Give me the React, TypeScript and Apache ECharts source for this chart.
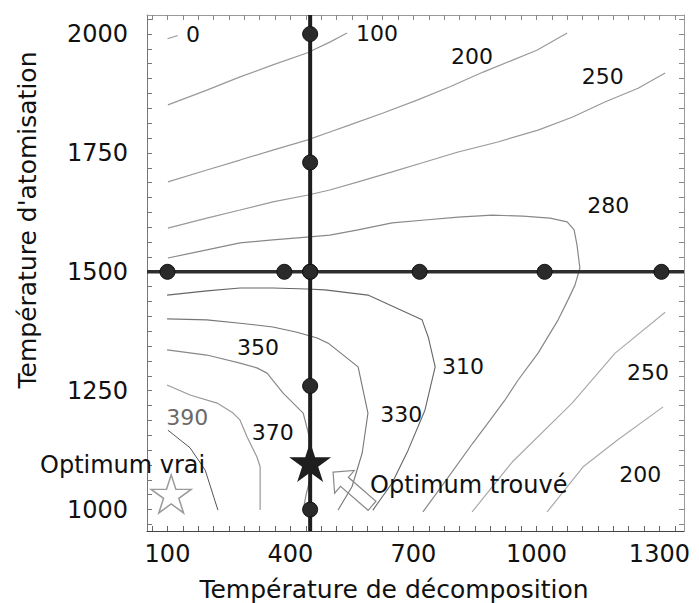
import React, { useEffect, useRef } from "react";
import * as echarts from "echarts";

// ---- axis ticks / labels ----
const xTickLabels = [100, 400, 700, 1000, 1300];
const yTickLabels = [1000, 1250, 1500, 1750, 2000];

// ---- contour lines (Température de décomposition, Température d'atomisation) ----
const contour0 = [[100, 1990], [125, 1997]];
const contour100 = [[101, 1851], [196, 1882], [277, 1910], [357, 1935], [440, 1960], [496, 1983], [538, 2002]];
const contour200a = [[101, 1689], [196, 1714], [277, 1735], [357, 1756], [440, 1777], [496, 1794], [545, 1809], [626, 1834], [709, 1861], [789, 1889], [870, 1920], [936, 1943], [1001, 1966], [1075, 2002]];
const contour250a = [[101, 1592], [196, 1613], [277, 1630], [357, 1647], [440, 1661], [496, 1672], [565, 1689], [648, 1710], [728, 1731], [809, 1752], [906, 1773], [1004, 1798], [1087, 1825], [1167, 1857], [1248, 1886], [1314, 1918]];
const contour280 = [[101, 1529], [196, 1546], [277, 1561], [357, 1567], [440, 1573], [496, 1577], [565, 1588], [648, 1603], [728, 1609], [809, 1615], [892, 1619], [967, 1617], [1033, 1613], [1075, 1605], [1092, 1588], [1099, 1556], [1106, 1508], [1094, 1472], [1077, 1441], [1053, 1399], [1004, 1329], [955, 1272], [923, 1230], [887, 1188], [845, 1140], [789, 1073], [723, 995]];
const contour310 = [[99, 1451], [196, 1460], [277, 1466], [357, 1466], [440, 1464], [484, 1462], [589, 1451], [721, 1399], [736, 1363], [753, 1300], [728, 1209], [687, 1125], [648, 1056], [601, 999]];
const contour330 = [[99, 1401], [196, 1399], [277, 1392], [357, 1384], [416, 1373], [465, 1361], [492, 1350], [565, 1300], [589, 1203], [575, 1119], [550, 1048], [516, 999]];
const contour350 = [[99, 1336], [196, 1325], [277, 1308], [318, 1298], [343, 1287], [382, 1245], [431, 1203], [448, 1146], [453, 1083], [438, 1031], [431, 999]];
const contour370 = [[99, 1262], [155, 1241], [221, 1224], [260, 1203], [277, 1188], [294, 1153], [318, 1111], [326, 1090], [326, 999]];
const contour390 = [[101, 1167], [155, 1130], [192, 1083], [223, 999]];
const contour250b = [[1314, 1415], [1192, 1329], [1087, 1224], [941, 1100], [843, 995]];
const contour200b = [[1309, 1216], [1197, 1146], [1114, 1090], [1026, 995]];

// contour labels: [x, y, text]
const contourLabels = [
  [162, 1998, "0"],
  [611, 2002, "100"],
  [843, 1952, "200"],
  [1162, 1910, "250"],
  [1175, 1640, "280"],
  [321, 1340, "350"],
  [357, 1163, "370"],
  [821, 1300, "310"],
  [670, 1199, "330"],
  [1272, 1289, "250"],
  [1253, 1073, "200"],
];
const greyLabels = [[148, 1193, "390"]];

// ---- experimental design ----
const centerX = 448;
const centerY = 1500;
const horizontalPointsX = [100, 385, 448, 715, 1020, 1305];
const verticalPointsY = [2000, 1730, 1500, 1260, 1000];

const optimumFound = [[448, 1100]];
const optimumTrue = [[109, 1033]];
// arrow: [tipX, tipY, tailX, tailY]
const arrowData = [[504, 1079, 599, 1008]];

const X_MIN = 50, X_MAX = 1360, Y_MIN = 955, Y_MAX = 2040;

const STAR = "path://M50,0 L61.2,34.5 L97.6,34.5 L68.2,55.9 L79.4,90.5 L50,69.1 L20.6,90.5 L31.8,55.9 L2.4,34.5 L38.8,34.5 Z";
const FONT = "DejaVu Sans";
const INK = "#111";

function range(a: number, b: number, s: number) {
  const out: number[] = [];
  for (let v = a; v <= b + 1e-6; v += s) out.push(v);
  return out;
}

export default function App() {
  const ref = useRef<HTMLDivElement>(null);
  useEffect(() => {
    if (!ref.current) return;
    const chart = echarts.init(ref.current, undefined, { renderer: "svg" });
    const xTicks = range(62.5, 1350, 37.5);
    const yTicks = range(968.75, 2031.25, 31.25);

    const contourSeries = (data: number[][], color: string, width = 1.2) => ({
      type: "line",
      data,
      showSymbol: false,
      silent: true,
      z: 1,
      lineStyle: { color, width },
    });

    const labelSeries = (data: any[], color: string) => ({
      type: "scatter",
      data,
      symbolSize: 0, z: 6, silent: true, clip: false,
      itemStyle: { opacity: 1 },
      label: {
        show: true, position: "inside", formatter: (p: any) => p.value[2],
        fontSize: 22, fontFamily: FONT, color, textBorderWidth: 0, opacity: 1,
      },
    });

    const option: any = {
      animation: false,
      backgroundColor: "#ffffff",
      grid: { left: 147, right: 15, top: 15, bottom: 72, show: false },
      xAxis: [
        {
          type: "value", min: X_MIN, max: X_MAX, position: "bottom",
          axisLine: { show: true, lineStyle: { color: "#444", width: 1.2 } },
          axisTick: { show: true, inside: true, length: 5, customValues: xTicks, lineStyle: { color: "#666" } },
          axisLabel: { customValues: xTickLabels, formatter: (v: number) => String(v), fontSize: 24, fontFamily: FONT, color: INK, margin: 11 },
          splitLine: { show: false },
        },
        {
          type: "value", min: X_MIN, max: X_MAX, position: "top",
          axisLine: { show: true, lineStyle: { color: "#999", width: 1 } },
          axisTick: { show: true, inside: true, length: 5, customValues: xTicks, lineStyle: { color: "#888" } },
          axisLabel: { show: false },
          splitLine: { show: false },
        },
      ],
      yAxis: [
        {
          type: "value", min: Y_MIN, max: Y_MAX, position: "left",
          axisLine: { show: true, lineStyle: { color: "#777", width: 1 } },
          axisTick: { show: true, inside: true, length: 5, customValues: yTicks, lineStyle: { color: "#777" } },
          axisLabel: { customValues: yTickLabels, formatter: (v: number) => String(v), fontSize: 24, fontFamily: FONT, color: INK, margin: 19 },
          splitLine: { show: false },
        },
        {
          type: "value", min: Y_MIN, max: Y_MAX, position: "right",
          axisLine: { show: true, lineStyle: { color: "#999", width: 1 } },
          axisTick: { show: true, inside: true, length: 5, customValues: yTicks, lineStyle: { color: "#888" } },
          axisLabel: { show: false },
          splitLine: { show: false },
        },
      ],
      series: [
        contourSeries(contour0, "#999"),
        contourSeries(contour100, "#999"),
        contourSeries(contour200a, "#999"),
        contourSeries(contour250a, "#999"),
        contourSeries(contour280, "#888"),
        contourSeries(contour310, "#666", 1.1),
        contourSeries(contour330, "#777", 1.1),
        contourSeries(contour350, "#888"),
        contourSeries(contour370, "#999"),
        contourSeries(contour390, "#555", 1),
        contourSeries(contour250b, "#aaa"),
        contourSeries(contour200b, "#aaa"),
        {
          type: "line",
          data: [[centerX, Y_MIN], [centerX, Y_MAX]],
          showSymbol: false, silent: true, z: 3,
          lineStyle: { color: "#1e1e1e", width: 4 },
        },
        {
          type: "line",
          data: [[X_MIN, centerY], [X_MAX, centerY]],
          showSymbol: false, silent: true, z: 3,
          lineStyle: { color: "#2e2e2e", width: 3.5 },
        },
        {
          type: "scatter",
          data: horizontalPointsX.map((x) => [x, centerY]).concat(verticalPointsY.map((y) => [centerX, y])),
          symbol: "circle", symbolSize: 15, z: 4, silent: true,
          itemStyle: { color: "#2a2a2a", borderColor: "#111", borderWidth: 1, opacity: 1 },
        },
        {
          type: "scatter",
          data: optimumFound,
          symbol: STAR, symbolSize: [42, 40], z: 5, silent: true,
          itemStyle: { color: "#1e1e1e", opacity: 1 },
        },
        {
          type: "scatter",
          data: optimumTrue,
          symbol: STAR, symbolSize: [40, 38], z: 5, silent: true, clip: false,
          itemStyle: { color: "rgba(255,255,255,0)", borderColor: "#9a9a9a", borderWidth: 1.5, opacity: 1 },
        },
        {
          type: "custom",
          data: arrowData,
          z: 5, silent: true, clip: false,
          renderItem: (params: any, api: any) => {
            const tip = api.coord([api.value(0), api.value(1)]);
            const tail = api.coord([api.value(2), api.value(3)]);
            const dx = tip[0] - tail[0], dy = tip[1] - tail[1];
            const L = Math.hypot(dx, dy);
            const ux = dx / L, uy = dy / L, nx = -uy, ny = ux;
            const H = 15, W = 15, S = 6;
            const pt = (a: number, b: number) => [tip[0] - a * ux + b * nx, tip[1] - a * uy + b * ny];
            return {
              type: "polygon",
              shape: { points: [pt(0, 0), pt(H, W), pt(H, S), pt(L, S), pt(L, -S), pt(H, -S), pt(H, -W)] },
              style: { fill: "rgba(255,255,255,0)", stroke: "#8a8a8a", lineWidth: 1.2 },
            };
          },
        },
        labelSeries(contourLabels, INK),
        labelSeries(greyLabels, "#6a6a6a"),
      ],
      graphic: [
        {
          type: "text", x: 27, y: 220, rotation: Math.PI / 2,
          style: { text: "Température d'atomisation", fontSize: 25, fontFamily: FONT, fill: INK, align: "center", verticalAlign: "middle" },
        },
        {
          type: "text", x: 394, y: 589,
          style: { text: "Température de décomposition", fontSize: 25, fontFamily: FONT, fill: INK, align: "center", verticalAlign: "middle" },
        },
        {
          type: "text", x: 40, y: 465, z: 10,
          style: { text: "Optimum vrai", fontSize: 24, fontFamily: FONT, fill: INK, align: "left", verticalAlign: "middle" },
        },
        {
          type: "text", x: 370, y: 485, z: 10,
          style: { text: "Optimum trouvé", fontSize: 24, fontFamily: FONT, fill: INK, align: "left", verticalAlign: "middle" },
        },
      ],
    };
    chart.setOption(option);
    return () => chart.dispose();
  }, []);
  return <div ref={ref} style={{ position: "fixed", left: 0, top: 0, width: 699, height: 603, background: "#fff" }} />;
}
